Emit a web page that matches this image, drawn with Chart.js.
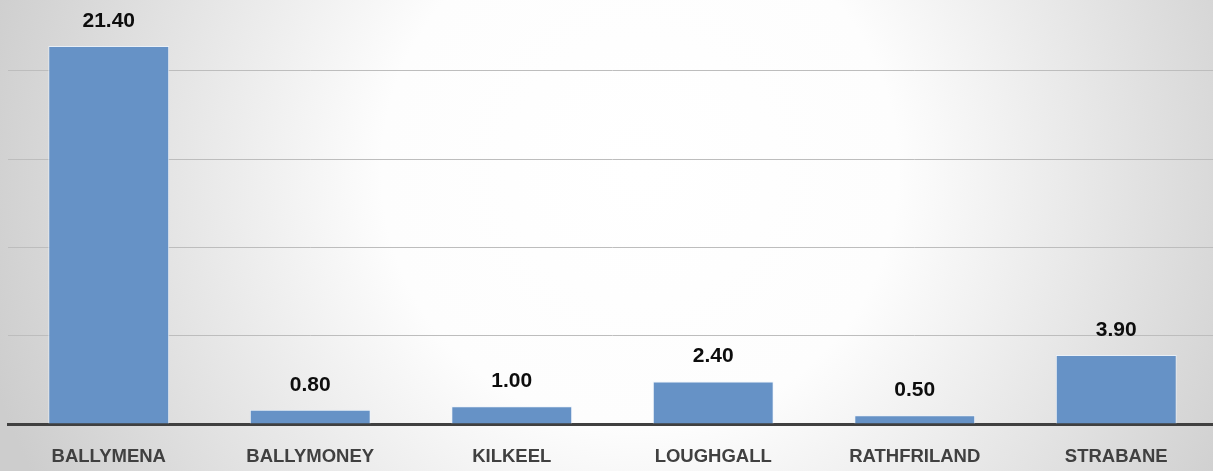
<!DOCTYPE html>
<html>
<head>
<meta charset="utf-8">
<script src="https://cdn.jsdelivr.net/npm/chart.js@4.4.1/dist/chart.umd.min.js"></script>
<style>
  html, body { margin:0; padding:0; overflow:hidden; background:#fff; }
  #wrap { width:1217px; height:471px; position:relative; }
</style>
</head>
<body>
<div id="wrap"><canvas id="c"></canvas></div>
<script>
  const towns = ['BALLYMENA', 'BALLYMONEY', 'KILKEEL', 'LOUGHGALL', 'RATHFRILAND', 'STRABANE'];
  const values = [21.4, 0.8, 1.0, 2.4, 0.5, 3.9];
  const gridTicks = [0, 5, 10, 15, 20];

  // radial grey/white backdrop like the office chart area
  const backdrop = {
    id: 'backdrop',
    beforeDraw(chart) {
      const c = chart.ctx;
      const g = c.createRadialGradient(640, 170, 0, 640, 170, 680);
      g.addColorStop(0, '#ffffff');
      g.addColorStop(0.38, '#fdfdfd');
      g.addColorStop(1, '#cdcdcd');
      c.save();
      c.fillStyle = g;
      c.fillRect(0, 0, chart.width, chart.height);
      c.restore();
    }
  };

  // value labels above bars
  const valueLabels = {
    id: 'valueLabels',
    afterDatasetsDraw(chart) {
      const c = chart.ctx;
      const meta = chart.getDatasetMeta(0);
      c.save();
      c.font = 'bold 21px "Liberation Sans", Arial, sans-serif';
      c.fillStyle = '#0d0d0d';
      c.textAlign = 'center';
      c.textBaseline = 'middle';
      meta.data.forEach((bar, i) => {
        c.fillText(values[i].toFixed(2), bar.x, bar.y - 25);
      });
      c.restore();
    }
  };

  new Chart(document.getElementById('c'), {
    type: 'bar',
    data: {
      labels: towns,
      datasets: [{
        data: values,
        backgroundColor: '#6692c6',
        borderColor: 'rgba(235,242,250,0.85)',
        borderWidth: 1,
        barPercentage: 0.6,
        categoryPercentage: 1
      }]
    },
    options: {
      responsive: true,
      maintainAspectRatio: false,
      animation: false,
      layout: { padding: { left: 8, right: 0, top: 0, bottom: 0 } },
      plugins: { legend: { display: false }, tooltip: { enabled: false } },
      scales: {
        x: {
          afterFit(scale) { scale.height = 47; },
          grid: { display: false, drawTicks: false },
          border: { display: true, color: '#404040', width: 3 },
          ticks: {
            color: '#404040',
            padding: 22,
            font: { family: '"Liberation Sans", Arial, sans-serif', size: 18.5, weight: 'bold' }
          }
        },
        y: {
          min: 0,
          max: 24,
          afterBuildTicks(scale) { scale.ticks = gridTicks.map(v => ({ value: v })); },
          grid: { color: '#bdbdbd', lineWidth: 1, drawTicks: false },
          border: { display: false },
          ticks: { display: false }
        }
      }
    },
    plugins: [backdrop, valueLabels]
  });
</script>
</body>
</html>
